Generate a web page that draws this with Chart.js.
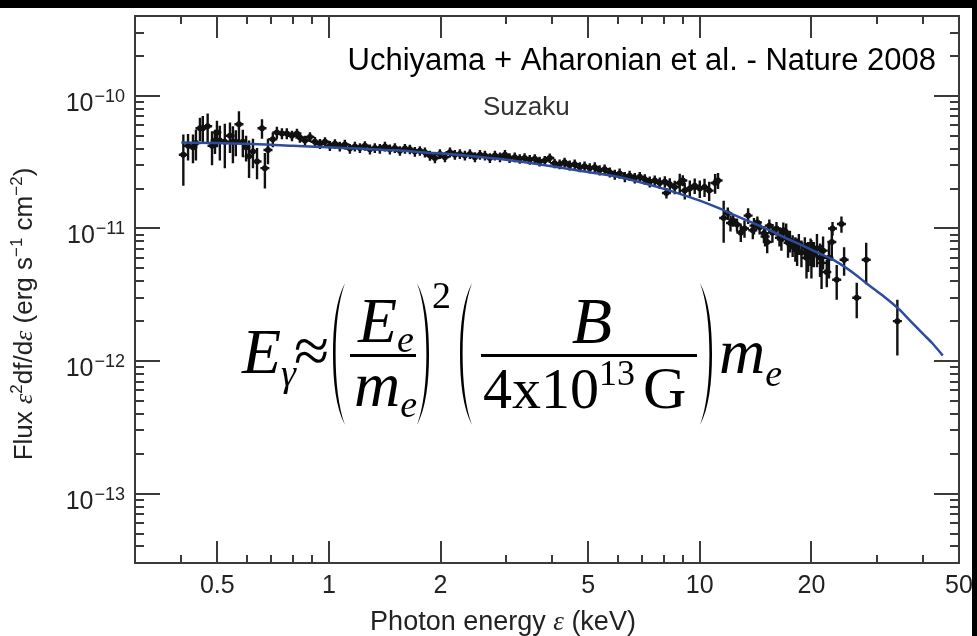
<!DOCTYPE html>
<html>
<head>
<meta charset="utf-8">
<script src="https://cdn.jsdelivr.net/npm/chart.js@4.4.1/dist/chart.umd.min.js"></script>
<style>
  html, body { margin: 0; padding: 0; background: #000; }
  #frame { position: absolute; left: 0; top: 8px; width: 972px; height: 628px; background: #fff; }
  canvas { display: block; }
</style>
</head>
<body>
<div id="frame"><canvas id="spectrum" width="972" height="628"></canvas></div>
<script>
// Suzaku X-ray spectrum, fluxes in units of 1e-11 erg s^-1 cm^-2, energies in keV
const FLUX_UNIT = 1e-11;

const softEnergy = [0.405, 0.417, 0.430, 0.438, 0.449, 0.457, 0.471, 0.484, 0.493, 0.499, 0.508, 0.524, 0.541, 0.551, 0.561,
  0.572, 0.586, 0.598, 0.609, 0.624, 0.640, 0.660, 0.672, 0.685, 0.706, 0.724, 0.747, 0.770, 0.795, 0.820];
const softFlux = [3.6, 4.2, 4.1, 4.4, 5.7, 5.7, 5.9, 4.2, 4.6, 5.3, 4.6, 4.5, 5.0, 4.5, 4.5,
  6.1, 4.5, 4.1, 3.5, 3.8, 3.2, 5.7, 2.85, 3.9, 4.7, 5.3, 5.2, 5.2, 5.0, 5.2];
const softError = [1.5, 0.95, 1.0, 1.15, 1.15, 1.35, 1.45, 1.2, 0.95, 1.2, 1.35, 1.65, 1.3, 1.4, 1.0,
  1.55, 1.05, 0.9, 1.1, 0.95, 0.85, 0.95, 0.85, 0.85, 0.6, 0.55, 0.5, 0.5, 0.45, 0.45];

const bandEnergy = [0.835, 0.862, 0.889, 0.917, 0.946, 0.976, 1.006, 1.038, 1.070, 1.104, 1.139, 1.175, 1.212, 1.250, 1.290,
  1.330, 1.372, 1.416, 1.460, 1.506, 1.554, 1.603, 1.653, 1.705, 1.759, 1.815, 1.872, 1.931, 1.992, 2.055,
  2.120, 2.186, 2.255, 2.326, 2.400, 2.476, 2.554, 2.634, 2.717, 2.803, 2.892, 2.983, 3.07, 3.17, 3.27,
  3.37, 3.48, 3.59, 3.70, 3.82, 3.94, 4.06, 4.19, 4.32, 4.46, 4.60, 4.75, 4.89, 5.05, 5.21,
  5.37, 5.54, 5.72, 5.90, 6.08, 6.28, 6.47, 6.68, 6.89, 7.11, 7.33, 7.56, 7.80, 8.05, 8.13,
  8.30, 8.56, 8.83, 9.0, 9.11, 9.40, 9.69, 10.0, 10.3, 10.6, 11.0, 11.2];
const bandFlux = [4.85, 4.6, 4.9, 4.5, 4.35, 4.5, 4.2, 4.35, 4.15, 4.3, 4.0, 4.15, 4.05, 4.2, 3.95,
  4.05, 4.0, 4.15, 3.95, 4.05, 3.85, 4.0, 3.95, 3.8, 3.85, 3.75, 3.55, 3.4, 3.65, 3.45,
  3.75, 3.6, 3.65, 3.55, 3.65, 3.45, 3.6, 3.55, 3.4, 3.55, 3.45, 3.6, 3.4, 3.45, 3.35,
  3.4, 3.3, 3.35, 3.2, 3.25, 3.4, 3.1, 3.05, 3.15, 3.0, 3.05, 2.9, 2.95, 2.85, 2.9,
  2.75, 2.8, 2.65, 2.55, 2.6, 2.45, 2.5, 2.4, 2.45, 2.35, 2.25, 2.3, 2.2, 2.25, 1.85,
  2.15, 2.05, 2.2, 2.3, 1.93, 2.0, 2.1, 2.0, 2.05, 1.93, 2.2, 2.3];
const bandError = [0.42, 0.4, 0.42, 0.4, 0.38, 0.38, 0.36, 0.36, 0.35, 0.36, 0.34, 0.35, 0.34, 0.35, 0.34,
  0.34, 0.34, 0.35, 0.34, 0.34, 0.32, 0.34, 0.33, 0.32, 0.32, 0.32, 0.31, 0.3, 0.31, 0.3,
  0.32, 0.31, 0.31, 0.3, 0.31, 0.3, 0.3, 0.3, 0.29, 0.3, 0.29, 0.3, 0.29, 0.29, 0.28,
  0.29, 0.28, 0.28, 0.27, 0.27, 0.28, 0.26, 0.26, 0.26, 0.26, 0.26, 0.25, 0.25, 0.25, 0.25,
  0.24, 0.24, 0.23, 0.22, 0.23, 0.22, 0.22, 0.22, 0.22, 0.21, 0.21, 0.21, 0.22, 0.22, 0.17,
  0.24, 0.24, 0.38, 0.22, 0.28, 0.3, 0.28, 0.3, 0.32, 0.32, 0.37, 0.32];

const hardEnergy = [11.6, 11.9, 12.1, 12.3, 12.6, 12.9, 13.2, 13.5, 13.9, 14.0, 14.3, 14.5, 14.9, 15.0, 15.2,
  15.4, 15.7, 16.1, 16.4, 16.6, 16.8, 17.1, 17.3, 17.5, 17.8, 18.1, 18.3, 18.5, 18.8, 19.2,
  19.4, 19.6, 19.9, 20.0, 20.3, 20.7, 21.1, 21.3, 21.5, 22.0, 22.3, 22.7, 22.8, 23.4, 24.1,
  24.5, 26.5, 28.1, 34.1];
const hardFlux = [1.2, 1.3, 1.1, 1.15, 1.07, 0.93, 1.0, 1.25, 0.97, 1.05, 1.11, 1.02, 0.92, 0.87, 0.79,
  1.05, 0.93, 1.0, 0.85, 0.83, 0.97, 0.93, 0.78, 0.81, 0.75, 0.71, 0.68, 0.77, 0.66, 0.72,
  0.6, 0.63, 0.68, 0.62, 0.65, 0.71, 0.6, 0.55, 0.68, 0.47, 0.6, 0.79, 1.0, 0.41, 1.08,
  0.58, 0.30, 0.58, 0.2];
const hardError = [0.42, 0.14, 0.15, 0.12, 0.12, 0.14, 0.15, 0.17, 0.14, 0.15, 0.12, 0.12, 0.12, 0.14, 0.14,
  0.12, 0.15, 0.12, 0.12, 0.15, 0.14, 0.16, 0.18, 0.15, 0.14, 0.15, 0.16, 0.14, 0.15, 0.14,
  0.18, 0.16, 0.16, 0.2, 0.14, 0.2, 0.17, 0.2, 0.19, 0.11, 0.18, 0.22, 0.12, 0.12, 0.15,
  0.14, 0.09, 0.2, 0.09];

// best-fit model curve
const modelEnergy = [0.4, 0.5, 0.6, 0.8, 1.0, 1.2, 1.5, 1.84, 2.4, 3, 4.2, 5, 6, 7.8, 8.8, 10, 11, 12.5,
  13.9, 15.4, 17, 19, 21, 23.4, 26, 28, 31, 34.5, 37, 40, 42.5, 45.2];
const modelFlux = [4.45, 4.4, 4.35, 4.2, 4.1, 4.0, 3.88, 3.73, 3.52, 3.3, 2.88, 2.66, 2.45, 2.03, 1.83, 1.62, 1.46, 1.25,
  1.1, 0.97, 0.85, 0.74, 0.65, 0.56, 0.46, 0.39, 0.315, 0.245, 0.2, 0.16, 0.135, 0.11];

// axes
const xLabelled = [0.5, 1, 2, 5, 10, 20, 50];
const xMinor = [0.3, 0.4, 0.6, 0.7, 0.8, 0.9, 3, 4, 6, 7, 8, 9, 30, 40];
const yDecades = [1e-13, 1e-12, 1e-11, 1e-10];

const SANS = '"Liberation Sans", Arial, Helvetica, sans-serif';
const SERIF = '"Liberation Serif", "Times New Roman", serif';
const AXIS_COLOR = '#3a3a3a';

function toPoints(energy, flux, error) {
  return energy.map((e, i) => ({
    x: e,
    y: flux[i] * FLUX_UNIT,
    yLow: Math.max(flux[i] - error[i], flux[i] * 0.05) * FLUX_UNIT,
    yHigh: (flux[i] + error[i]) * FLUX_UNIT
  }));
}

const pointStyle = {
  type: 'scatter',
  showLine: false,
  pointRadius: 3,
  pointHoverRadius: 3,
  pointBackgroundColor: '#111',
  pointBorderWidth: 0,
  errorBars: true,
  order: 1
};

// vertical + horizontal error bars under the data points
const errorBars = {
  id: 'errorBars',
  beforeDatasetsDraw(chart) {
    const { ctx, chartArea: a, scales: { x, y } } = chart;
    ctx.save();
    ctx.beginPath();
    ctx.rect(a.left, a.top, a.width, a.height);
    ctx.clip();
    ctx.strokeStyle = '#111';
    ctx.lineWidth = 2.4;
    ctx.beginPath();
    chart.data.datasets.forEach(ds => {
      if (!ds.errorBars) return;
      ds.data.forEach(p => {
        const px = x.getPixelForValue(p.x);
        const py = y.getPixelForValue(p.y);
        ctx.moveTo(px, y.getPixelForValue(p.yHigh));
        ctx.lineTo(px, y.getPixelForValue(p.yLow));
        ctx.moveTo(px - 4.5, py);
        ctx.lineTo(px + 4.5, py);
      });
    });
    ctx.stroke();
    ctx.restore();
  }
};

function drawRuns(ctx, runs, startX, baseY) {
  let cx = startX;
  runs.forEach(r => {
    ctx.font = r.font;
    ctx.fillText(r.t, cx, baseY + (r.dy || 0));
    cx += ctx.measureText(r.t).width + (r.gap || 0);
  });
  return cx;
}

function runsWidth(ctx, runs) {
  return runs.reduce((w, r) => { ctx.font = r.font; return w + ctx.measureText(r.t).width + (r.gap || 0); }, 0);
}

function paren(ctx, x, top, bottom, open) {
  // tall bracket: curved ends, nearly straight in the middle
  const w = 12, t = 2.6, h = bottom - top, mid = (top + bottom) / 2;
  const P = dx => (open ? x + dx : x + w - dx);
  ctx.beginPath();
  ctx.moveTo(P(w), top);
  ctx.bezierCurveTo(P(0.25 * w), top + 0.12 * h, P(0), top + 0.3 * h, P(0), mid);
  ctx.bezierCurveTo(P(0), bottom - 0.3 * h, P(0.25 * w), bottom - 0.12 * h, P(w), bottom);
  ctx.bezierCurveTo(P(0.25 * w + t), bottom - 0.12 * h, P(t), bottom - 0.3 * h, P(t), mid);
  ctx.bezierCurveTo(P(t), top + 0.3 * h, P(0.25 * w + t), top + 0.12 * h, P(w), top);
  ctx.fill();
}

// frame, inward ticks on all sides, labels, titles and the synchrotron formula
const decorations = {
  id: 'decorations',
  afterDraw(chart) {
    const { ctx, chartArea: { left, right, top, bottom }, scales: { x, y } } = chart;
    ctx.save();
    ctx.strokeStyle = AXIS_COLOR;
    ctx.lineWidth = 2;
    ctx.strokeRect(left, top, right - left, bottom - top);

    ctx.beginPath();
    x.ticks.forEach(t => {
      if (t.value <= x.min || t.value >= x.max) return;
      const px = Math.round(x.getPixelForValue(t.value));
      const len = xLabelled.includes(t.value) ? 22 : 8;
      ctx.moveTo(px, bottom); ctx.lineTo(px, bottom - len);
      ctx.moveTo(px, top); ctx.lineTo(px, top + len);
    });
    y.ticks.forEach(t => {
      if (t.value <= y.min || t.value >= y.max) return;
      const py = Math.round(y.getPixelForValue(t.value));
      const len = yDecades.some(d => Math.abs(d - t.value) < d * 1e-6) ? 25 : 9;
      ctx.moveTo(left, py); ctx.lineTo(left + len, py);
      ctx.moveTo(right, py); ctx.lineTo(right - len, py);
    });
    ctx.stroke();

    // y tick labels with superscript exponents
    ctx.fillStyle = '#222';
    ctx.textAlign = 'left';
    ctx.textBaseline = 'alphabetic';
    yDecades.forEach(v => {
      const py = y.getPixelForValue(v);
      const runs = [
        { t: '10', font: '25px ' + SANS, gap: 1 },
        { t: '\u2212' + Math.round(-Math.log10(v)), font: '18px ' + SANS, dy: -9 }
      ];
      drawRuns(ctx, runs, 125 - runsWidth(ctx, runs), py + 15);
    });

    // y title, rotated
    const yTitle = [
      { t: 'Flux ', font: '26px ' + SANS },
      { t: '\u03b5', font: 'italic 26px ' + SERIF },
      { t: '2', font: '17px ' + SANS, dy: -10 },
      { t: 'df/d', font: '26px ' + SANS },
      { t: '\u03b5', font: 'italic 26px ' + SERIF },
      { t: ' (erg s', font: '26px ' + SANS },
      { t: '\u22121', font: '17px ' + SANS, dy: -10 },
      { t: ' cm', font: '26px ' + SANS },
      { t: '\u22122', font: '17px ' + SANS, dy: -10 },
      { t: ')', font: '26px ' + SANS }
    ];
    ctx.save();
    ctx.translate(32, 306);
    ctx.rotate(-Math.PI / 2);
    drawRuns(ctx, yTitle, -runsWidth(ctx, yTitle) / 2, 0);
    ctx.restore();

    // x title
    const xTitle = [
      { t: 'Photon energy ', font: '27px ' + SANS },
      { t: '\u03b5', font: 'italic 27px ' + SERIF },
      { t: ' (keV)', font: '27px ' + SANS }
    ];
    drawRuns(ctx, xTitle, 503 - runsWidth(ctx, xTitle) / 2, 622);

    // annotations
    ctx.fillStyle = '#000';
    ctx.font = '31px ' + SANS;
    ctx.textAlign = 'right';
    ctx.fillText('Uchiyama + Aharonian et al. - Nature 2008', 936, 62);
    ctx.textAlign = 'left';
    ctx.fillStyle = '#333';
    ctx.font = '26px ' + SANS;
    ctx.fillText('Suzaku', 483, 107);

    // E_gamma ~ (E_e/m_e)^2 (B / 4x10^13 G) m_e
    ctx.fillStyle = '#000';
    const it = s => 'italic ' + s + 'px ' + SERIF;
    const up = s => s + 'px ' + SERIF;
    drawRuns(ctx, [{ t: 'E', font: it(64) }], 242, 365);
    drawRuns(ctx, [{ t: '\u03b3', font: it(38) }], 281, 378);
    drawRuns(ctx, [{ t: '\u2248', font: up(64) }], 294, 364);
    paren(ctx, 333, 275, 417, true);
    drawRuns(ctx, [{ t: 'E', font: it(64) }, { t: 'e', font: it(38), dy: 10 }], 358, 334);
    drawRuns(ctx, [{ t: 'm', font: it(64) }, { t: 'e', font: it(38), dy: 11 }], 354, 398);
    ctx.fillRect(350, 346, 66, 3);
    paren(ctx, 417, 275, 417, false);
    drawRuns(ctx, [{ t: '2', font: up(38) }], 432, 300);
    paren(ctx, 460, 275, 417, true);
    ctx.textAlign = 'center';
    ctx.font = it(66);
    ctx.fillText('B', 592, 335);
    ctx.textAlign = 'left';
    ctx.fillRect(481, 346, 216, 3);
    drawRuns(ctx, [
      { t: '4x10', font: up(58) },
      { t: '13', font: up(36), dy: -23, gap: 8 },
      { t: 'G', font: up(60) }
    ], 483, 400);
    paren(ctx, 700, 275, 417, false);
    drawRuns(ctx, [{ t: 'm', font: it(64) }, { t: 'e', font: it(38), dy: 13 }], 719, 365);
    ctx.restore();
  }
};

const yTickList = [];
for (let d = -14; d <= -10; d++) {
  for (let m = 1; m <= 9; m++) yTickList.push(m * Math.pow(10, d));
}

new Chart(document.getElementById('spectrum'), {
  data: {
    datasets: [
      {
        type: 'line',
        label: 'model',
        data: modelEnergy.map((e, i) => ({ x: e, y: modelFlux[i] * FLUX_UNIT })),
        borderColor: '#2d4c9c',
        borderWidth: 2.5,
        pointRadius: 0,
        cubicInterpolationMode: 'monotone',
        fill: false,
        order: 0
      },
      { ...pointStyle, label: 'soft', data: toPoints(softEnergy, softFlux, softError) },
      { ...pointStyle, label: 'band', data: toPoints(bandEnergy, bandFlux, bandError) },
      { ...pointStyle, label: 'hard', data: toPoints(hardEnergy, hardFlux, hardError) }
    ]
  },
  options: {
    responsive: false,
    animation: false,
    devicePixelRatio: 1,
    layout: { padding: { top: 8, right: 13, left: 0, bottom: 0 } },
    plugins: { legend: { display: false }, tooltip: { enabled: false } },
    scales: {
      x: {
        type: 'logarithmic',
        position: 'bottom',
        min: 0.3,
        max: 50,
        grid: { display: false, drawTicks: false },
        border: { display: false },
        afterBuildTicks: scale => {
          scale.ticks = xLabelled.concat(xMinor).sort((a, b) => a - b).map(v => ({ value: v }));
        },
        afterFit: scale => {
          scale.height = 73;
          scale.paddingLeft = 0;
          scale.paddingRight = 0;
        },
        ticks: {
          autoSkip: false,
          maxRotation: 0,
          padding: 8,
          color: '#222',
          font: { family: SANS, size: 25 },
          callback: v => (xLabelled.includes(v) ? String(v) : '')
        }
      },
      y: {
        type: 'logarithmic',
        position: 'left',
        min: 3e-14,
        max: 4e-10,
        grid: { display: false, drawTicks: false },
        border: { display: false },
        afterBuildTicks: scale => {
          scale.ticks = yTickList.filter(v => v >= 3e-14 && v <= 4e-10).map(v => ({ value: v }));
        },
        afterFit: scale => { scale.width = 135; },
        ticks: { display: false }
      }
    }
  },
  plugins: [errorBars, decorations]
});
</script>
</body>
</html>
